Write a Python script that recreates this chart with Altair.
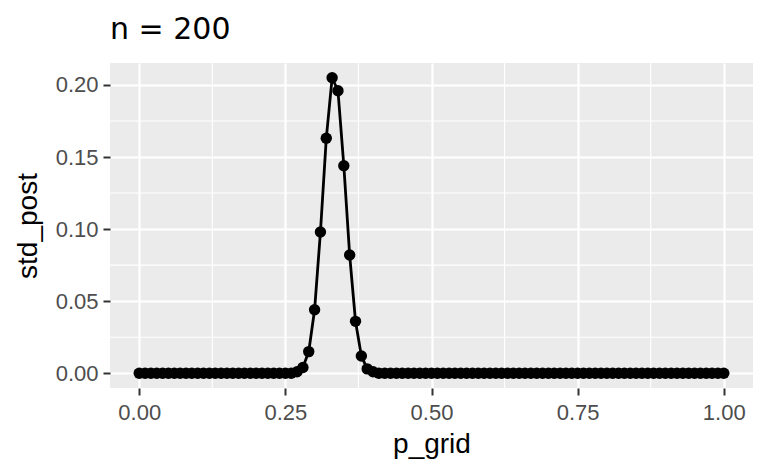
import altair as alt
import pandas as pd

p_grid = [round(i / 100, 2) for i in range(101)]
std_post = [
    0.0, 0.0, 0.0, 0.0, 0.0, 0.0, 0.0, 0.0, 0.0, 0.0,
    0.0, 0.0, 0.0, 0.0, 0.0, 0.0, 0.0, 0.0, 0.0, 0.0,
    0.0, 0.0, 0.0, 0.0, 0.0, 0.0, 0.0, 0.001, 0.004, 0.015,
    0.044, 0.098, 0.163, 0.205, 0.196, 0.144, 0.082, 0.036, 0.012, 0.003,
    0.001, 0.0, 0.0, 0.0, 0.0, 0.0, 0.0, 0.0, 0.0, 0.0,
    0.0, 0.0, 0.0, 0.0, 0.0, 0.0, 0.0, 0.0, 0.0, 0.0,
    0.0, 0.0, 0.0, 0.0, 0.0, 0.0, 0.0, 0.0, 0.0, 0.0,
    0.0, 0.0, 0.0, 0.0, 0.0, 0.0, 0.0, 0.0, 0.0, 0.0,
    0.0, 0.0, 0.0, 0.0, 0.0, 0.0, 0.0, 0.0, 0.0, 0.0,
    0.0, 0.0, 0.0, 0.0, 0.0, 0.0, 0.0, 0.0, 0.0, 0.0,
    0.0,
]
x_breaks = [0.0, 0.25, 0.5, 0.75, 1.0]
x_minor = [0.125, 0.375, 0.625, 0.875]
y_breaks = [0.0, 0.05, 0.10, 0.15, 0.20]
y_minor = [0.025, 0.075, 0.125, 0.175]

df = pd.DataFrame({"p_grid": p_grid, "std_post": std_post})
xm = pd.DataFrame({"v": x_minor})
ym = pd.DataFrame({"v": y_minor})

xscale = alt.Scale(domain=[-0.05, 1.05], nice=False, zero=False)
yscale = alt.Scale(domain=[-0.01025, 0.21525], nice=False, zero=False)

xaxis = alt.Axis(
    values=x_breaks, format=".2f", title="p_grid",
    labelFontSize=22, labelColor="#4D4D4D", labelPadding=24, labelBaseline="alphabetic",
    tickColor="#333333", tickWidth=2, tickSize=7, domain=False,
    grid=True, gridColor="white", gridWidth=2.2,
    titleFontSize=28, titleColor="black", titleFontWeight="normal",
    titleY=64, titleBaseline="alphabetic",
)
yaxis = alt.Axis(
    values=y_breaks, format=".2f", title="std_post",
    labelFontSize=22, labelColor="#4D4D4D", labelPadding=5,
    tickColor="#333333", tickWidth=2, tickSize=7, domain=False,
    grid=True, gridColor="white", gridWidth=2.2,
    titleFontSize=28, titleColor="black", titleFontWeight="normal",
    titleX=-74, titleY=162.5, titleAngle=270, titleAlign="center", titleBaseline="alphabetic",
)

minor_x = alt.Chart(xm).mark_rule(color="white", strokeWidth=1.1).encode(
    x=alt.X("v:Q", scale=xscale, axis=xaxis)
)
minor_y = alt.Chart(ym).mark_rule(color="white", strokeWidth=1.1).encode(
    y=alt.Y("v:Q", scale=yscale, axis=yaxis)
)
line = alt.Chart(df).mark_line(color="black", strokeWidth=2.8).encode(
    x=alt.X("p_grid:Q", scale=xscale, axis=xaxis),
    y=alt.Y("std_post:Q", scale=yscale, axis=yaxis),
)
pts = alt.Chart(df).mark_circle(color="black", size=130, opacity=1).encode(
    x=alt.X("p_grid:Q", scale=xscale, axis=xaxis),
    y=alt.Y("std_post:Q", scale=yscale, axis=yaxis),
)

chart = alt.layer(minor_x, minor_y, line, pts).properties(
    width=643, height=325,
    title=alt.TitleParams(
        "n = 200", anchor="start", frame="group", fontSize=30, font="DejaVu Sans",
        fontWeight="normal", offset=17, color="black",
    ),
    autosize=alt.AutoSizeParams(type="none"),
    padding={"left": 102, "top": 55, "right": 7, "bottom": 78},
).configure(font="Liberation Sans").configure_view(fill="#EBEBEB", strokeWidth=0)

chart.save("out.html", embed_options={"renderer": "svg", "actions": False})
